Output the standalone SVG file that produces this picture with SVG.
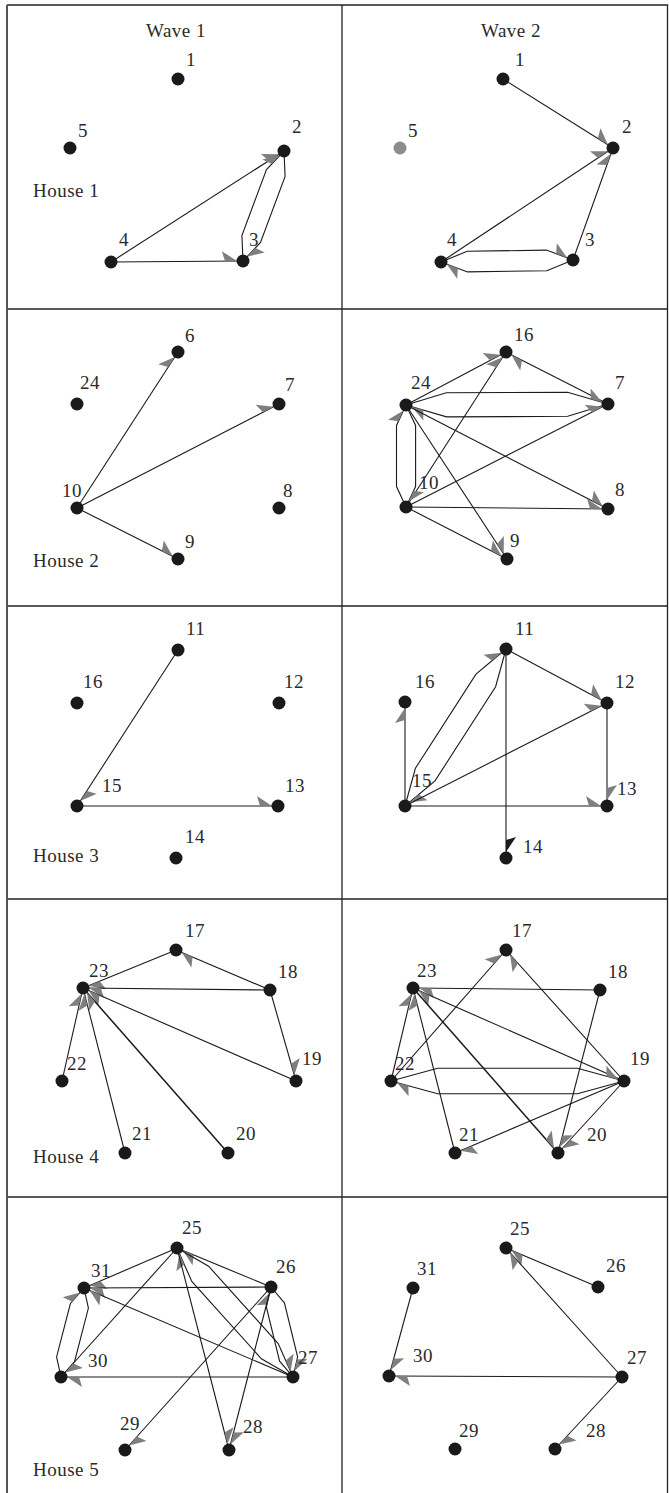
<svg xmlns="http://www.w3.org/2000/svg" width="669" height="1493" viewBox="0 0 669 1493">
<defs>
<style>
.e{fill:none;stroke:#1a1a1a;stroke-width:1.1;marker-end:url(#a)}
.k{marker-end:url(#b)}
.t{stroke-width:1.5}
.n{fill:#1a1a1a}
.g{fill:#8c8c8c}
text{font-family:"Liberation Serif","Times New Roman",serif;font-size:19px;fill:#2a2a2a;letter-spacing:0.5px}
.grid{stroke:#222;stroke-width:1.3;fill:none}
</style>
<marker id="a" markerUnits="userSpaceOnUse" orient="auto" viewBox="-25 -12 30 24" markerWidth="30" markerHeight="24" refX="0" refY="0"><path d="M-6,0 L-21,-10 L-18,0 Z" fill="#7f7f7f"/></marker>
<marker id="b" markerUnits="userSpaceOnUse" orient="auto" viewBox="-25 -12 30 24" markerWidth="30" markerHeight="24" refX="0" refY="0"><path d="M-6,0 L-21,-10 L-18,0 Z" fill="#1a1a1a"/></marker>
</defs>
<rect x="0" y="0" width="669" height="1493" fill="#fff"/>
<g id="grid">
<path class="grid" d="M7,5 H667.5 V1493 M342,5 V1493 M7,309 H667.5 M7,606 H667.5 M7,899 H667.5 M7,1197 H667.5"/>
<path d="M7,5 V1493" stroke="#555" stroke-width="2" fill="none"/>
</g>
<g id="panel-labels">
<text x="176" y="37" text-anchor="middle">Wave 1</text>
<text x="511" y="37" text-anchor="middle">Wave 2</text>
<text x="33" y="197">House 1</text>
<text x="33" y="567">House 2</text>
<text x="33" y="862">House 3</text>
<text x="33" y="1163">House 4</text>
<text x="33" y="1476">House 5</text>
</g>
<g id="connectors">
<!-- W1 H1 -->
<line class="e" x1="111" y1="262" x2="243" y2="261"/>
<line class="e" x1="111" y1="262" x2="284" y2="151"/>
<polyline class="e" points="243,261 241.9,235.5 266.5,169.5 284,151"/>
<polyline class="e" points="284,151 285.1,176.5 260.5,242.5 243,261"/>
<!-- W2 H1 -->
<line class="e" x1="503" y1="79" x2="613" y2="148"/>
<line class="e" x1="441" y1="262" x2="613" y2="148"/>
<line class="e" x1="573" y1="260" x2="613" y2="148"/>
<polyline class="e" points="441,262 467.2,251.3 546.4,250.1 573,260"/>
<polyline class="e" points="573,260 546.8,270.7 467.6,271.9 441,262"/>
<!-- W1 H2 -->
<line class="e" x1="77" y1="508" x2="178" y2="352"/>
<line class="e" x1="77" y1="508" x2="279" y2="404"/>
<line class="e" x1="77" y1="508" x2="178" y2="559"/>
<!-- W2 H2 -->
<line class="e" x1="406" y1="405" x2="506" y2="352"/>
<line class="e" x1="608" y1="404" x2="506" y2="352"/>
<line class="e" x1="406" y1="507" x2="506" y2="352"/>
<polyline class="e" points="406,405 446.3,392.7 567.5,392.2 608,404"/>
<polyline class="e" points="608,404 567.7,416.3 446.5,416.9 406,405"/>
<polyline class="e" points="406,507 396.5,486.6 396.5,425.4 406,405"/>
<polyline class="e" points="406,405 415.6,425.4 415.6,486.6 406,507"/>
<line class="e" x1="406" y1="507" x2="608" y2="404"/>
<line class="e" x1="406" y1="405" x2="608" y2="509"/>
<line class="e" x1="406" y1="507" x2="608" y2="509"/>
<line class="e" x1="406" y1="405" x2="507" y2="559"/>
<line class="e" x1="406" y1="507" x2="507" y2="559"/>
<!-- W1 H3 -->
<line class="e" x1="178" y1="650" x2="77" y2="806"/>
<line class="e" x1="77" y1="806" x2="278" y2="806"/>
<!-- W2 H3 -->
<line class="e" x1="405" y1="806" x2="405" y2="702"/>
<polyline class="e" points="405,806 415.4,768.3 476,674.1 506,649"/>
<polyline class="e" points="506,649 495.6,686.7 435,780.9 405,806"/>
<line class="e" x1="506" y1="649" x2="607" y2="703"/>
<line class="e" x1="405" y1="806" x2="607" y2="703"/>
<line class="e" x1="607" y1="703" x2="607" y2="806"/>
<line class="e" x1="405" y1="806" x2="607" y2="806"/>
<line class="e k" x1="506" y1="649" x2="506" y2="858"/>
<!-- W1 H4 -->
<line class="e" x1="176" y1="950" x2="83" y2="988"/>
<line class="e" x1="270" y1="990" x2="176" y2="950"/>
<line class="e" x1="270" y1="990" x2="83" y2="988"/>
<line class="e" x1="270" y1="990" x2="296" y2="1081"/>
<line class="e" x1="296" y1="1081" x2="83" y2="988"/>
<line class="e" x1="62" y1="1081" x2="83" y2="988"/>
<line class="e" x1="125" y1="1153" x2="83" y2="988"/>
<line class="e t" x1="228" y1="1153" x2="83" y2="988"/>
<!-- W2 H4 -->
<line class="e" x1="391" y1="1081" x2="506" y2="950"/>
<line class="e" x1="624" y1="1081" x2="506" y2="950"/>
<line class="e" x1="600" y1="990" x2="413" y2="988"/>
<line class="e" x1="624" y1="1081" x2="413" y2="988"/>
<polyline class="e" points="391,1081 437.6,1068.2 577.4,1068.2 624,1081"/>
<polyline class="e" points="624,1081 577.4,1093.8 437.6,1093.8 391,1081"/>
<line class="e t" x1="413" y1="988" x2="558" y2="1153"/>
<line class="e" x1="624" y1="1081" x2="558" y2="1153"/>
<line class="e" x1="600" y1="990" x2="558" y2="1153"/>
<line class="e" x1="455" y1="1153" x2="413" y2="988"/>
<line class="e" x1="391" y1="1081" x2="413" y2="988"/>
<line class="e" x1="624" y1="1081" x2="455" y2="1153"/>
<!-- W1 H5 -->
<line class="e" x1="177" y1="1248" x2="84" y2="1288"/>
<line class="e" x1="271" y1="1287" x2="84" y2="1288"/>
<line class="e" x1="293" y1="1377" x2="84" y2="1288"/>
<polyline class="e" points="61,1377 56.6,1356.9 70.4,1303.5 84,1288"/>
<polyline class="e" points="84,1288 88.4,1308.1 74.6,1361.5 61,1377"/>
<line class="e" x1="177" y1="1248" x2="61" y2="1377"/>
<line class="e" x1="293" y1="1377" x2="61" y2="1377"/>
<line class="e" x1="271" y1="1287" x2="177" y2="1248"/>
<polyline class="e" points="177,1248 208.6,1266.2 278.2,1343.6 293,1377"/>
<polyline class="e" points="293,1377 261.4,1358.8 191.8,1281.4 177,1248"/>
<polyline class="e" points="271,1287 284.4,1302.8 297.6,1356.8 293,1377"/>
<polyline class="e" points="293,1377 279.6,1361.2 266.4,1307.2 271,1287"/>
<line class="e" x1="177" y1="1248" x2="229" y2="1450"/>
<line class="e" x1="271" y1="1287" x2="229" y2="1450"/>
<line class="e" x1="271" y1="1287" x2="125" y2="1450"/>
<!-- W2 H5 -->
<line class="e" x1="598" y1="1287" x2="506" y2="1248"/>
<line class="e" x1="622" y1="1377" x2="506" y2="1248"/>
<line class="e" x1="413" y1="1288" x2="389" y2="1376"/>
<line class="e" x1="622" y1="1377" x2="389" y2="1376"/>
<line class="e" x1="622" y1="1377" x2="555" y2="1449"/>
</g>
<!-- nodes -->
<g id="w1h1-n1"><circle class="n" cx="178" cy="79" r="6.5"/><text x="186" y="66">1</text></g>
<g id="w1h1-n5"><circle class="n" cx="70" cy="148" r="6.5"/><text x="78" y="137">5</text></g>
<g id="w1h1-n2"><circle class="n" cx="284" cy="151" r="6.5"/><text x="292" y="133">2</text></g>
<g id="w1h1-n4"><circle class="n" cx="111" cy="262" r="6.5"/><text x="119" y="246">4</text></g>
<g id="w1h1-n3"><circle class="n" cx="243" cy="261" r="6.5"/><text x="249" y="246">3</text></g>
<g id="w2h1-n1"><circle class="n" cx="503" cy="79" r="6.5"/><text x="515" y="66">1</text></g>
<g id="w2h1-n5"><circle class="g" cx="400" cy="148" r="6.5"/><text x="408" y="137">5</text></g>
<g id="w2h1-n2"><circle class="n" cx="613" cy="148" r="6.5"/><text x="622" y="133">2</text></g>
<g id="w2h1-n4"><circle class="n" cx="441" cy="262" r="6.5"/><text x="447" y="246">4</text></g>
<g id="w2h1-n3"><circle class="n" cx="573" cy="260" r="6.5"/><text x="585" y="246">3</text></g>
<g id="w1h2-n6"><circle class="n" cx="178" cy="352" r="6.5"/><text x="185" y="342">6</text></g>
<g id="w1h2-n24"><circle class="n" cx="77" cy="404" r="6.5"/><text x="80" y="389">24</text></g>
<g id="w1h2-n7"><circle class="n" cx="279" cy="404" r="6.5"/><text x="285" y="391">7</text></g>
<g id="w1h2-n10"><circle class="n" cx="77" cy="508" r="6.5"/><text x="62" y="497">10</text></g>
<g id="w1h2-n8"><circle class="n" cx="279" cy="508" r="6.5"/><text x="283" y="497">8</text></g>
<g id="w1h2-n9"><circle class="n" cx="178" cy="559" r="6.5"/><text x="185" y="548">9</text></g>
<g id="w2h2-n16"><circle class="n" cx="506" cy="352" r="6.5"/><text x="514" y="341">16</text></g>
<g id="w2h2-n24"><circle class="n" cx="406" cy="405" r="6.5"/><text x="411" y="389">24</text></g>
<g id="w2h2-n7"><circle class="n" cx="608" cy="404" r="6.5"/><text x="615" y="389">7</text></g>
<g id="w2h2-n10"><circle class="n" cx="406" cy="507" r="6.5"/><text x="419" y="489">10</text></g>
<g id="w2h2-n8"><circle class="n" cx="608" cy="509" r="6.5"/><text x="615" y="496">8</text></g>
<g id="w2h2-n9"><circle class="n" cx="507" cy="559" r="6.5"/><text x="510" y="547">9</text></g>
<g id="w1h3-n11"><circle class="n" cx="178" cy="650" r="6.5"/><text x="186" y="635">11</text></g>
<g id="w1h3-n16"><circle class="n" cx="77" cy="703" r="6.5"/><text x="83" y="688">16</text></g>
<g id="w1h3-n12"><circle class="n" cx="279" cy="703" r="6.5"/><text x="284" y="688">12</text></g>
<g id="w1h3-n15"><circle class="n" cx="77" cy="806" r="6.5"/><text x="102" y="792">15</text></g>
<g id="w1h3-n13"><circle class="n" cx="278" cy="806" r="6.5"/><text x="285" y="792">13</text></g>
<g id="w1h3-n14"><circle class="n" cx="176" cy="858" r="6.5"/><text x="185" y="843">14</text></g>
<g id="w2h3-n11"><circle class="n" cx="506" cy="649" r="6.5"/><text x="515" y="635">11</text></g>
<g id="w2h3-n16"><circle class="n" cx="405" cy="702" r="6.5"/><text x="415" y="688">16</text></g>
<g id="w2h3-n12"><circle class="n" cx="607" cy="703" r="6.5"/><text x="615" y="688">12</text></g>
<g id="w2h3-n15"><circle class="n" cx="405" cy="806" r="6.5"/><text x="412" y="787">15</text></g>
<g id="w2h3-n13"><circle class="n" cx="607" cy="806" r="6.5"/><text x="617" y="795">13</text></g>
<g id="w2h3-n14"><circle class="n" cx="506" cy="858" r="6.5"/><text x="523" y="853">14</text></g>
<g id="w1h4-n17"><circle class="n" cx="176" cy="950" r="6.5"/><text x="185" y="937">17</text></g>
<g id="w1h4-n23"><circle class="n" cx="83" cy="988" r="6.5"/><text x="89" y="977">23</text></g>
<g id="w1h4-n18"><circle class="n" cx="270" cy="990" r="6.5"/><text x="278" y="978">18</text></g>
<g id="w1h4-n22"><circle class="n" cx="62" cy="1081" r="6.5"/><text x="67" y="1070">22</text></g>
<g id="w1h4-n19"><circle class="n" cx="296" cy="1081" r="6.5"/><text x="302" y="1065">19</text></g>
<g id="w1h4-n21"><circle class="n" cx="125" cy="1153" r="6.5"/><text x="132" y="1140">21</text></g>
<g id="w1h4-n20"><circle class="n" cx="228" cy="1153" r="6.5"/><text x="236" y="1140">20</text></g>
<g id="w2h4-n17"><circle class="n" cx="506" cy="950" r="6.5"/><text x="512" y="937">17</text></g>
<g id="w2h4-n23"><circle class="n" cx="413" cy="988" r="6.5"/><text x="417" y="977">23</text></g>
<g id="w2h4-n18"><circle class="n" cx="600" cy="990" r="6.5"/><text x="608" y="978">18</text></g>
<g id="w2h4-n22"><circle class="n" cx="391" cy="1081" r="6.5"/><text x="395" y="1070">22</text></g>
<g id="w2h4-n19"><circle class="n" cx="624" cy="1081" r="6.5"/><text x="630" y="1065">19</text></g>
<g id="w2h4-n21"><circle class="n" cx="455" cy="1153" r="6.5"/><text x="459" y="1141">21</text></g>
<g id="w2h4-n20"><circle class="n" cx="558" cy="1153" r="6.5"/><text x="587" y="1141">20</text></g>
<g id="w1h5-n25"><circle class="n" cx="177" cy="1248" r="6.5"/><text x="182" y="1234">25</text></g>
<g id="w1h5-n31"><circle class="n" cx="84" cy="1288" r="6.5"/><text x="91" y="1277">31</text></g>
<g id="w1h5-n26"><circle class="n" cx="271" cy="1287" r="6.5"/><text x="276" y="1273">26</text></g>
<g id="w1h5-n30"><circle class="n" cx="61" cy="1377" r="6.5"/><text x="88" y="1367">30</text></g>
<g id="w1h5-n27"><circle class="n" cx="293" cy="1377" r="6.5"/><text x="298" y="1364">27</text></g>
<g id="w1h5-n29"><circle class="n" cx="125" cy="1450" r="6.5"/><text x="120" y="1430">29</text></g>
<g id="w1h5-n28"><circle class="n" cx="229" cy="1450" r="6.5"/><text x="243" y="1433">28</text></g>
<g id="w2h5-n25"><circle class="n" cx="506" cy="1248" r="6.5"/><text x="510" y="1235">25</text></g>
<g id="w2h5-n26"><circle class="n" cx="598" cy="1287" r="6.5"/><text x="606" y="1272">26</text></g>
<g id="w2h5-n31"><circle class="n" cx="413" cy="1288" r="6.5"/><text x="417" y="1275">31</text></g>
<g id="w2h5-n30"><circle class="n" cx="389" cy="1376" r="6.5"/><text x="413" y="1362">30</text></g>
<g id="w2h5-n27"><circle class="n" cx="622" cy="1377" r="6.5"/><text x="627" y="1364">27</text></g>
<g id="w2h5-n29"><circle class="n" cx="455" cy="1449" r="6.5"/><text x="459" y="1437">29</text></g>
<g id="w2h5-n28"><circle class="n" cx="555" cy="1449" r="6.5"/><text x="586" y="1437">28</text></g>
</svg>
